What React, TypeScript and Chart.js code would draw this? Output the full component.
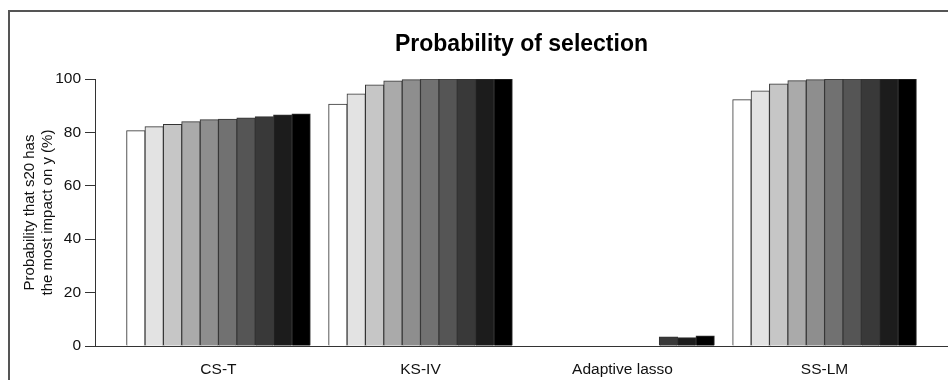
import React, { useEffect, useRef } from "react";
import { Chart, registerables } from "chart.js";

Chart.register(...registerables);

const categories = ["CS-T", "KS-IV", "Adaptive lasso", "SS-LM"];
const csT = [80.7, 82.2, 83.0, 84.0, 84.8, 85.0, 85.4, 85.9, 86.6, 86.9];
const ksIV = [90.6, 94.4, 97.8, 99.3, 99.8, 100, 100, 100, 100, 100];
const adaptiveLasso = [0, 0, 0, 0, 0, 0, 0, 3.4, 3.1, 3.8];
const ssLM = [92.3, 95.5, 98.2, 99.4, 99.8, 99.9, 100, 100, 100, 100];
const barColors = [
  "#ffffff", "#e3e3e3", "#c6c6c6", "#aaaaaa", "#8e8e8e",
  "#717171", "#555555", "#393939", "#1c1c1c", "#000000",
];
const seriesLabels = ["1", "2", "3", "4", "5", "6", "7", "8", "9", "10"];
const yAxisTitle = ["Probability that s20 has", "the most impact on y (%)"];
const chartTitle = "Probability of selection";

const FAMILY = "'Liberation Sans', Arial, Helvetica, sans-serif";

export default function App() {
  const ref = useRef<HTMLCanvasElement | null>(null);

  useEffect(() => {
    if (!ref.current) return;
    const groups = [csT, ksIV, adaptiveLasso, ssLM];
    const datasets = seriesLabels.map((lab, j) => ({
      label: lab,
      data: groups.map((g, i) => ({ x: i, y: g[j] })),
      backgroundColor: barColors[j],
      borderColor: "#333333",
      borderWidth: { top: 1, left: 1, right: 1, bottom: 0 },
      borderSkipped: "start",
      inflateAmount: 0.4,
      categoryPercentage: 10 / 11,
      barPercentage: 1,
    }));
    const chart = new Chart(ref.current, {
      type: "bar",
      data: { datasets },
      options: {
        animation: false,
        responsive: false,
        layout: { padding: 0 },
        plugins: {
          legend: { display: false },
          tooltip: { enabled: false },
          title: {
            display: true,
            text: chartTitle,
            fullSize: false,
            color: "#000",
            font: { family: FAMILY, size: 23, weight: "bold", lineHeight: 1.2 },
            padding: { top: 31, bottom: 20.4 },
          },
        },
        scales: {
          x: {
            type: "linear",
            min: -0.611,
            max: 3.611,
            offset: false,
            bounds: "data",
            afterBuildTicks: (s: any) => {
              s.ticks = categories.map((_, i) => ({ value: i }));
            },
            afterFit: (s: any) => {
              s.height = 34;
            },
            ticks: {
              autoSkip: false,
              maxRotation: 0,
              padding: 14,
              color: "#111",
              font: { family: FAMILY, size: 15.5 },
              callback: (v: any) => categories[Math.round(Number(v))] ?? "",
            },
            grid: { display: false, drawTicks: false },
            border: { display: true, color: "#333", width: 1 },
          },
          y: {
            min: 0,
            max: 100,
            afterFit: (s: any) => {
              s.width = 95;
            },
            ticks: {
              stepSize: 20,
              padding: 4,
              color: "#111",
              font: { family: FAMILY, size: 15.5 },
            },
            grid: {
              display: true,
              drawOnChartArea: false,
              drawTicks: true,
              tickLength: 10,
              color: "#333",
              lineWidth: 1,
            },
            border: { display: true, color: "#333", width: 1 },
            title: {
              display: true,
              text: yAxisTitle,
              color: "#111",
              font: { family: FAMILY, size: 15, lineHeight: 1.227 },
              padding: { top: 20.5, bottom: 0 },
            },
          },
        },
      },
    });
    return () => chart.destroy();
  }, []);

  return (
    <div
      style={{
        position: "fixed",
        left: 0,
        top: 0,
        width: 948,
        height: 380,
        overflow: "hidden",
        background: "#fff",
      }}
    >
      <div
        style={{
          position: "absolute",
          left: 8,
          top: 10,
          width: 980,
          height: 420,
          border: "2px solid #555",
          boxSizing: "border-box",
        }}
      />
      <canvas
        ref={ref}
        width={948}
        height={380}
        style={{ position: "absolute", left: 0, top: 0, width: 948, height: 380 }}
      />
    </div>
  );
}
